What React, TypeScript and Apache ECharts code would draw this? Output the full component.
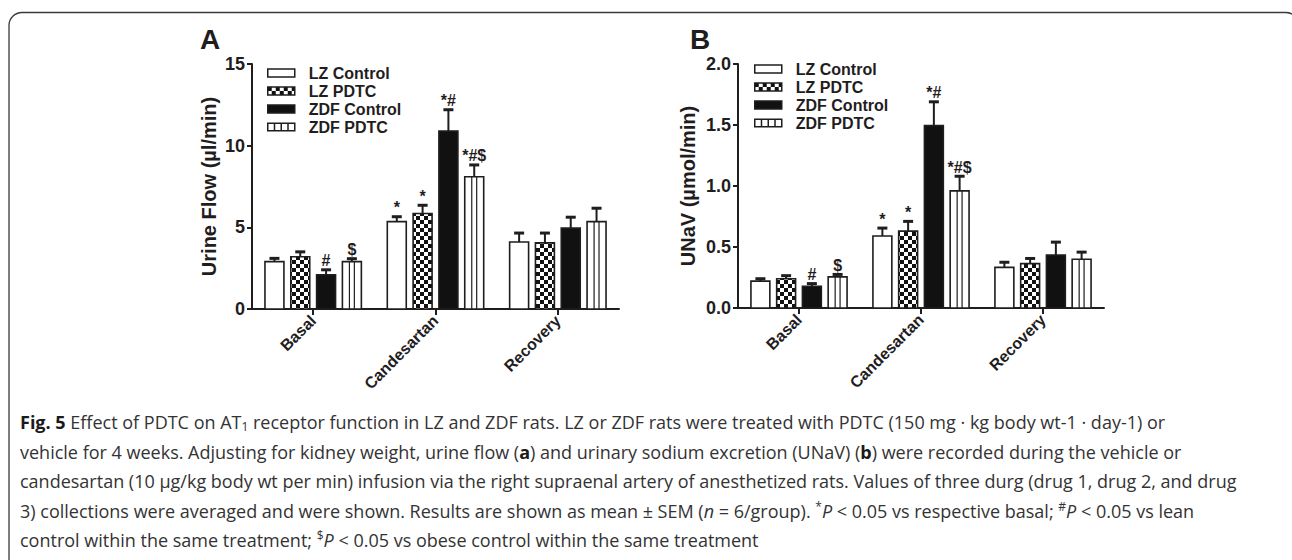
import React, { useEffect, useRef } from 'react';
import * as echarts from 'echarts';

// ---------- data ----------
const categories = ['Basal', 'Candesartan', 'Recovery'];
const groups = ['LZ Control', 'LZ PDTC', 'ZDF Control', 'ZDF PDTC'];

// Panel A: urine flow (µl/min), mean and SEM
const flowLzControl = [2.9, 5.35, 4.1];
const flowLzPdtc = [3.2, 5.85, 4.05];
const flowZdfControl = [2.1, 10.9, 4.95];
const flowZdfPdtc = [2.9, 8.1, 5.35];
const flowLzControlSem = [0.2, 0.3, 0.55];
const flowLzPdtcSem = [0.3, 0.5, 0.6];
const flowZdfControlSem = [0.3, 1.3, 0.67];
const flowZdfPdtcSem = [0.18, 0.72, 0.82];

// Panel B: UNaV (µmol/min), mean and SEM
const unavLzControl = [0.22, 0.59, 0.333];
const unavLzPdtc = [0.24, 0.63, 0.364];
const unavZdfControl = [0.178, 1.495, 0.435];
const unavZdfPdtc = [0.255, 0.96, 0.4];
const unavLzControlSem = [0.02, 0.065, 0.042];
const unavLzPdtcSem = [0.025, 0.08, 0.042];
const unavZdfControlSem = [0.022, 0.195, 0.105];
const unavZdfPdtcSem = [0.02, 0.12, 0.058];

// significance marks
const sigLzControl = ['', '*', ''];
const sigLzPdtc = ['', '*', ''];
const sigZdfControl = ['#', '*#', ''];
const sigZdfPdtc = ['$', '*#$', ''];

// tick labels
const flowTicks = [0, 5, 10, 15];
const unavTicks = [0, 0.5, 1.0, 1.5, 2.0];

const captionLines = [
  '{b|Fig. 5} Effect of PDTC on AT{sub|1} receptor function in LZ and ZDF rats. LZ or ZDF rats were treated with PDTC (150 mg · kg body wt-1 · day-1) or',
  'vehicle for 4 weeks. Adjusting for kidney weight, urine flow ({bb|a}) and urinary sodium excretion (UNaV) ({bb|b}) were recorded during the vehicle or',
  'candesartan (10 μg/kg body wt per min) infusion via the right supraenal artery of anesthetized rats. Values of three durg (drug 1, drug 2, and drug',
  '3) collections were averaged and were shown. Results are shown as mean ± SEM ({i|n} = 6/group). {sup|*}{i|P} < 0.05 vs respective basal; {sup|#}{i|P} < 0.05 vs lean',
  'control within the same treatment; {sup|$}{i|P} < 0.05 vs obese control within the same treatment',
];

// ---------- styling ----------
const INK = '#1f1d1e';
const SANS = '"Liberation Sans", Arial, Helvetica, sans-serif';
const CAP_FONT = '"Open Sans", "Noto Sans", sans-serif';
const CAP_SIZE = 18;

function makeChecker() {
  const c = document.createElement('canvas');
  c.width = 8;
  c.height = 8;
  const ctx = c.getContext('2d')!;
  ctx.fillStyle = '#ffffff';
  ctx.fillRect(0, 0, 8, 8);
  ctx.fillStyle = '#111111';
  ctx.fillRect(0, 0, 4, 4);
  ctx.fillRect(4, 4, 4, 4);
  return c;
}

function buildOption() {
  const checker = { image: makeChecker(), repeat: 'repeat', imageWidth: 8, imageHeight: 8 } as any;
  const fills: any[] = ['#ffffff', checker, '#111111', '#ffffff'];

  const makeSeries = (
    name: string,
    k: number,
    means: number[],
    sems: number[],
    sigs: string[],
    axisIdx: number
  ) => ({
    type: 'custom',
    name,
    xAxisIndex: axisIdx,
    yAxisIndex: axisIdx,
    itemStyle: { color: fills[k] },
    encode: { x: 0, y: 1 },
    data: means.map((m, i) => [i, m, sems[i]]),
    renderItem: (params: any, api: any) => {
      const ci = api.value(0);
      const m = api.value(1);
      const s = api.value(2);
      const band = api.size([1, 0])[0];
      const base = api.coord([ci, 0]);
      const top = api.coord([ci, m]);
      const et = api.coord([ci, m + s]);
      const w = band * 0.155;
      const cx = base[0] + (k - 1.5) * band * 0.211;
      const children: any[] = [];
      children.push({
        type: 'rect',
        shape: { x: cx - w / 2, y: top[1], width: w, height: base[1] - top[1] },
        style: { fill: fills[k], stroke: INK, lineWidth: 1.6 },
      });
      if (k === 3) {
        [-w * 0.13, w * 0.13].forEach((dx) => {
          children.push({
            type: 'line',
            shape: { x1: cx + dx, y1: top[1], x2: cx + dx, y2: base[1] },
            style: { stroke: INK, lineWidth: 1.2 },
          });
        });
      }
      children.push({
        type: 'line',
        shape: { x1: cx, y1: et[1], x2: cx, y2: top[1] },
        style: { stroke: INK, lineWidth: 2 },
      });
      children.push({
        type: 'line',
        shape: { x1: cx - 5, y1: et[1], x2: cx + 5, y2: et[1] },
        style: { stroke: INK, lineWidth: 3 },
      });
      const sig = sigs[params.dataIndex];
      if (sig) {
        children.push({
          type: 'text',
          style: {
            text: sig,
            x: cx,
            y: et[1] - 1,
            align: 'center',
            verticalAlign: 'bottom',
            fontSize: 16,
            fontWeight: 'bold',
            fontFamily: SANS,
            fill: INK,
          },
        });
      }
      return { type: 'group', children };
    },
  });

  const axisName = {
    fontSize: 20,
    fontWeight: 'bold',
    fontFamily: SANS,
    color: INK,
  };
  const tickLabel = {
    fontSize: 18,
    fontWeight: 'bold',
    fontFamily: SANS,
    color: INK,
    margin: 7,
  };

  const xAxisFor = (gi: number) => ({
    type: 'category',
    gridIndex: gi,
    data: categories,
    axisLine: { show: true, lineStyle: { color: INK, width: 2 } },
    axisTick: { show: true, alignWithLabel: true, length: 6, lineStyle: { color: INK, width: 2 } },
    axisLabel: {
      interval: 0,
      rotate: 45,
      fontSize: 16,
      fontWeight: 'bold',
      fontFamily: SANS,
      color: INK,
      margin: 9,
    },
    splitLine: { show: false },
  });

  const legendData = [
    { name: groups[0], itemStyle: { color: '#ffffff' } },
    { name: groups[1], itemStyle: { color: checker } },
    { name: groups[2], itemStyle: { color: '#111111' } },
    {
      name: groups[3],
      icon: 'path://M0,0H28V8H0Z M7,0V8 M14,0V8 M21,0V8',
      itemStyle: { color: '#ffffff' },
    },
  ];
  const legendFor = (left: number, top: number) => ({
    orient: 'vertical',
    left,
    top,
    itemWidth: 27,
    itemHeight: 8,
    itemGap: 2,
    icon: 'rect',
    selectedMode: false,
    itemStyle: { borderColor: INK, borderWidth: 1.5 },
    textStyle: {
      fontSize: 16,
      fontWeight: 'bold',
      fontFamily: SANS,
      color: INK,
      padding: [0, 0, 0, 9],
    },
    data: legendData,
  });

  const richCap = {
    b: { fontSize: CAP_SIZE, fontWeight: 'bold', fontFamily: CAP_FONT, fill: '#1a1a1a' },
    bb: { fontSize: CAP_SIZE, fontWeight: 'bold', fontFamily: CAP_FONT, fill: '#1a1a1a' },
    i: { fontSize: CAP_SIZE, fontStyle: 'italic', fontFamily: CAP_FONT, fill: '#333333' },
    sub: { fontSize: 12, lineHeight: 12, padding: [9, 0, 0, 0], fontFamily: CAP_FONT, fill: '#333333' },
    sup: { fontSize: 12, lineHeight: 12, padding: [0, 0, 9, 0], fontFamily: CAP_FONT, fill: '#333333' },
  };

  const graphic: any[] = [
    {
      type: 'rect',
      shape: { x: 9, y: 12.5, width: 1290, height: 620, r: 13 },
      style: { fill: 'rgba(0,0,0,0)', stroke: '#3a3a3a', lineWidth: 1.3 },
      silent: true,
      z: -1,
    },
    {
      type: 'text',
      style: { text: 'A', x: 210, y: 39, align: 'center', verticalAlign: 'middle', fontSize: 28, fontWeight: 'bold', fontFamily: SANS, fill: INK },
    },
    {
      type: 'text',
      style: { text: 'B', x: 700, y: 39, align: 'center', verticalAlign: 'middle', fontSize: 28, fontWeight: 'bold', fontFamily: SANS, fill: INK },
    },
    ...captionLines.map((t, i) => ({
      type: 'text',
      style: {
        text: t,
        x: 20,
        y: 422 + i * 29.5,
        align: 'left',
        verticalAlign: 'middle',
        fontSize: CAP_SIZE,
        fontFamily: CAP_FONT,
        fill: '#333333',
        rich: richCap,
      },
    })),
  ];

  return {
    animation: false,
    backgroundColor: '#ffffff',
    grid: [
      { left: 252, top: 64, width: 367, height: 245 },
      { left: 738, top: 64, width: 366, height: 244 },
    ],
    legend: [legendFor(262, 60), legendFor(749, 56)],
    xAxis: [xAxisFor(0), xAxisFor(1)],
    yAxis: [
      {
        type: 'value',
        gridIndex: 0,
        min: flowTicks[0],
        max: flowTicks[flowTicks.length - 1],
        interval: flowTicks[1] - flowTicks[0],
        name: 'Urine Flow (µl/min)',
        nameLocation: 'middle',
        nameGap: 33,
        nameRotate: 90,
        nameTextStyle: axisName,
        axisLine: { show: true, lineStyle: { color: INK, width: 2 } },
        axisTick: { show: true, length: 5, lineStyle: { color: INK, width: 2 } },
        axisLabel: tickLabel,
        splitLine: { show: false },
      },
      {
        type: 'value',
        gridIndex: 1,
        min: unavTicks[0],
        max: unavTicks[unavTicks.length - 1],
        interval: unavTicks[1] - unavTicks[0],
        name: 'UNaV (µmol/min)',
        nameLocation: 'middle',
        nameGap: 40,
        nameRotate: 90,
        nameTextStyle: axisName,
        axisLine: { show: true, lineStyle: { color: INK, width: 2 } },
        axisTick: { show: true, length: 5, lineStyle: { color: INK, width: 2 } },
        axisLabel: { ...tickLabel, formatter: (v: number) => v.toFixed(1) },
        splitLine: { show: false },
      },
    ],
    graphic,
    series: [
      makeSeries(groups[0], 0, flowLzControl, flowLzControlSem, sigLzControl, 0),
      makeSeries(groups[1], 1, flowLzPdtc, flowLzPdtcSem, sigLzPdtc, 0),
      makeSeries(groups[2], 2, flowZdfControl, flowZdfControlSem, sigZdfControl, 0),
      makeSeries(groups[3], 3, flowZdfPdtc, flowZdfPdtcSem, sigZdfPdtc, 0),
      makeSeries(groups[0], 0, unavLzControl, unavLzControlSem, sigLzControl, 1),
      makeSeries(groups[1], 1, unavLzPdtc, unavLzPdtcSem, sigLzPdtc, 1),
      makeSeries(groups[2], 2, unavZdfControl, unavZdfControlSem, sigZdfControl, 1),
      makeSeries(groups[3], 3, unavZdfPdtc, unavZdfPdtcSem, sigZdfPdtc, 1),
    ],
  };
}

export default function App() {
  const ref = useRef<HTMLDivElement>(null);
  useEffect(() => {
    if (!ref.current) return;
    const chart = echarts.init(ref.current, null, { renderer: 'svg' });
    chart.setOption(buildOption() as any);
    return () => {
      chart.dispose();
    };
  }, []);
  return (
    <div
      ref={ref}
      style={{ position: 'absolute', left: 0, top: 0, width: 1292, height: 560, background: '#ffffff' }}
    />
  );
}
